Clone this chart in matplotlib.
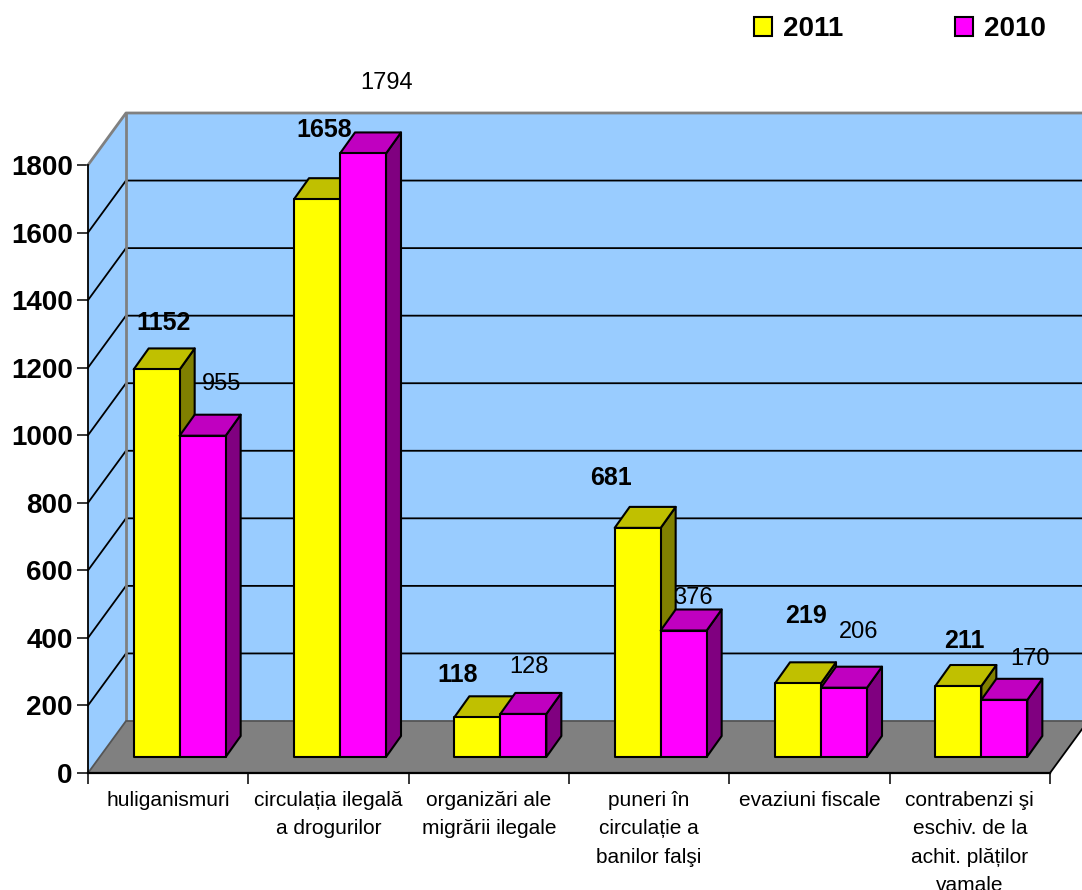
import matplotlib.pyplot as plt
from matplotlib.patches import Patch, Polygon

plt.rcParams['font.family'] = ['Liberation Sans', 'DejaVu Sans']

categories = ["huliganismuri", "circulația ilegală\na drogurilor", "organizări ale\nmigrării ilegale",
              "puneri în\ncirculație a\nbanilor falşi", "evaziuni fiscale",
              "contrabenzi şi\neschiv. de la\nachit. plăților\nvamale"]
values_2011 = [1152, 1658, 118, 681, 219, 211]
values_2010 = [955, 1794, 128, 376, 206, 170]
y_ticks = [0, 200, 400, 600, 800, 1000, 1200, 1400, 1600, 1800]

W, H = 1082, 890
fig = plt.figure(figsize=(W / 100, H / 100), dpi=100)
ax = fig.add_axes([88 / W, 1 - 773 / H, (1050 - 88) / W, (773 - 165) / H])
ax.set_xlim(0, 6)
ax.set_ylim(0, 1800)
ax.patch.set_visible(False)

# fake 3d: how far the back wall is shifted from the front plane, in data units
px_x = 6 / (1050 - 88)
px_y = 1800 / (773 - 165)
dx, dy = 38 * px_x, 52 * px_y
bar_dx, bar_dy = 15 * px_x, 21 * px_y
base_x, base_y = 11.5 * px_x, 16 * px_y
bar_w = 46 * px_x
persp = 0.996  # bars sit further back so they come out a bit shorter than the front scale


def poly(pts, fc, ec='black', lw=1.5, z=1):
    ax.add_patch(Polygon(pts, closed=True, fc=fc, ec=ec, lw=lw, zorder=z, clip_on=False, joinstyle='round'))


# walls and floor
wall = '#99CCFF'
poly([(dx, dy), (6 + dx, dy), (6 + dx, 1800 + dy), (dx, 1800 + dy)], wall, ec='none', z=1)
poly([(0, 0), (dx, dy), (dx, 1800 + dy), (0, 1800)], wall, ec='none', z=1)
poly([(0, 0), (6, 0), (6 + dx, dy), (dx, dy)], '#808080', ec='none', z=1)
for t in y_ticks[1:-1]:
    ax.plot([0, dx, 6 + dx], [t, t + dy, t + dy], color='black', lw=1.3, zorder=2, clip_on=False)
ax.plot([0, dx, 6 + dx], [1800, 1800 + dy, 1800 + dy], color='#808080', lw=2, zorder=2, clip_on=False)
ax.plot([dx, dx], [dy, 1800 + dy], color='#808080', lw=2, zorder=2, clip_on=False)
ax.plot([0, dx, 6 + dx], [0, dy, dy], color='#555555', lw=1.3, zorder=2, clip_on=False)
ax.plot([6, 6 + dx], [0, dy], color='black', lw=1.3, zorder=2, clip_on=False)


def bar3d(x0, v, front, top, side, z):
    x1 = x0 + bar_w
    y0 = base_y
    y1 = base_y + v * persp
    poly([(x1, y0), (x1 + bar_dx, y0 + bar_dy), (x1 + bar_dx, y1 + bar_dy), (x1, y1)], side, z=z)
    poly([(x0, y1), (x1, y1), (x1 + bar_dx, y1 + bar_dy), (x0 + bar_dx, y1 + bar_dy)], top, z=z)
    poly([(x0, y0), (x1, y0), (x1, y1), (x0, y1)], front, z=z)


for i in range(len(categories)):
    x = i + 0.5 + base_x - bar_w
    bar3d(x, values_2011[i], '#FFFF00', '#C0C000', '#808000', 3 + i * 2)
    bar3d(x + bar_w, values_2010[i], '#FF00FF', '#C000C0', '#800080', 4 + i * 2)

# data labels, moved by hand in the original (offsets in px from bar top centre)
off_2011 = [(7, 46), (7, 69), (-20, 42), (-27, 50), (8, 67), (6, 45)]
off_2010 = [(19, 52), (24, 70), (6, 47), (9, 33), (15, 56), (26, 41)]
for i in range(len(categories)):
    x = i + 0.5 + base_x
    ax.annotate(str(values_2011[i]), (x - bar_w / 2, base_y + values_2011[i] * persp),
                xytext=(off_2011[i][0] * 0.72, off_2011[i][1] * 0.72), textcoords='offset points',
                ha='center', va='center', fontsize=18, fontweight='bold', color='black', zorder=30,
                annotation_clip=False)
    ax.annotate(str(values_2010[i]), (x + bar_w / 2, base_y + values_2010[i] * persp),
                xytext=(off_2010[i][0] * 0.72, off_2010[i][1] * 0.72), textcoords='offset points',
                ha='center', va='center', fontsize=17, color='black', zorder=30,
                annotation_clip=False)

# axes
for s in ['top', 'right']:
    ax.spines[s].set_visible(False)
ax.spines['left'].set_linewidth(1.3)
ax.spines['bottom'].set_linewidth(1.6)
ax.spines['left'].set_zorder(25)
ax.spines['bottom'].set_zorder(25)
ax.set_yticks(y_ticks)
ax.set_yticklabels([str(t) for t in y_ticks], fontsize=20, fontweight='bold')
ax.tick_params(axis='y', length=8, width=1.1, pad=3)
ax.set_xticks(range(7))
ax.set_xticklabels([])
ax.tick_params(axis='x', which='major', length=8, width=1.1)
ax.set_xticks([i + 0.5 for i in range(6)], minor=True)
ax.set_xticklabels(categories, minor=True, fontsize=15, linespacing=1.62, va='top')
ax.tick_params(axis='x', which='minor', length=0, pad=13)

handles = [Patch(fc='#FFFF00', ec='black', lw=1.5, label='2011'),
           Patch(fc='#FF00FF', ec='black', lw=1.5, label='2010')]
leg = fig.legend(handles=handles, ncol=2, loc='upper left', bbox_to_anchor=(754 / W, 1 - 16 / H),
                 frameon=False, borderpad=0, borderaxespad=0, handlelength=0.65, handleheight=0.65,
                 handletextpad=0.4, columnspacing=4.0, prop={'size': 20, 'weight': 'bold'})

fig.savefig('out.png', dpi=100)
